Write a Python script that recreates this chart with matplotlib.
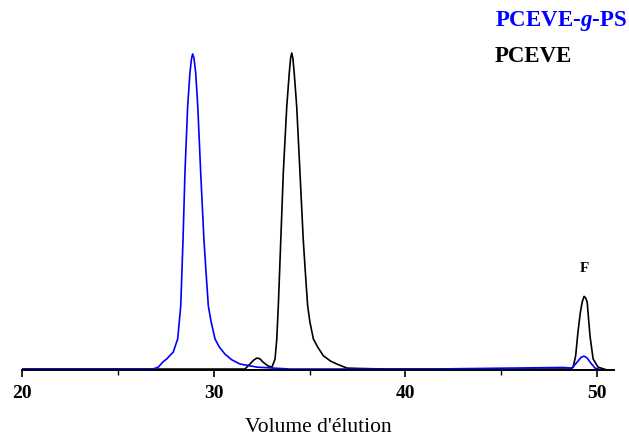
import matplotlib.pyplot as plt
from matplotlib.ticker import MultipleLocator

# SEC traces (elution volume, relative intensity)
graft_vol = [20.0, 26.83, 27.11, 27.34, 27.55, 27.89, 28.12, 28.28, 28.40, 28.50,
             28.64, 28.76, 28.84, 28.90, 28.97, 29.06, 29.17, 29.32, 29.49, 29.60,
             29.72, 29.87, 30.07, 30.29, 30.59, 30.95, 31.37, 32.26, 33.98, 41.28,
             48.22, 48.69, 49.0, 49.16, 49.32, 49.48, 49.63, 49.89, 50.26, 50.88]
graft_int = [0.3, 0.3, 0.9, 2.5, 3.5, 5.7, 9.8, 20.2, 41.3, 62.5,
             83.3, 94.0, 98.4, 100.0, 98.7, 94.0, 83.3, 62.5, 41.3, 30.9,
             20.2, 15.1, 9.8, 7.3, 5.0, 3.2, 1.9, 0.9, 0.3, 0.3,
             0.8, 0.6, 2.8, 4.0, 4.4, 3.8, 2.5, 0.6, 0.0, 0.0]

pceve_vol = [20.0, 31.63, 31.89, 32.10, 32.26, 32.42, 32.57, 32.83, 33.04, 33.20,
             33.29, 33.37, 33.50, 33.63, 33.81, 33.94, 34.01, 34.07, 34.13, 34.20,
             34.33, 34.50, 34.67, 34.78, 34.90, 35.02, 35.20, 35.42, 35.72, 36.10,
             36.42, 36.95, 37.48, 39.04, 48.59, 48.75, 48.88, 49.0, 49.12, 49.22,
             49.32, 49.40, 49.48, 49.63, 49.79, 50.05, 50.52, 50.88]
pceve_int = [0.3, 0.3, 1.9, 3.2, 3.8, 3.5, 2.5, 1.3, 0.9, 3.5,
             9.8, 20.3, 41.3, 62.4, 83.3, 93.9, 98.6, 100.3, 98.6, 93.9,
             83.3, 62.4, 41.3, 30.9, 20.3, 15.1, 9.8, 7.3, 4.5, 2.8,
             1.9, 0.6, 0.5, 0.3, 0.3, 0.9, 4.5, 12.0, 18.0, 21.5,
             23.3, 22.8, 21.5, 10.7, 3.5, 0.9, 0.0, 0.0]

xticks = [20, 30, 40, 50]

plt.rcParams['font.family'] = ['Liberation Serif', 'DejaVu Serif']
plt.rcParams['mathtext.fontset'] = 'custom'
plt.rcParams['mathtext.bfit'] = 'Liberation Serif:italic:bold'

fig = plt.figure(figsize=(6.29, 4.38), dpi=100)
ax = fig.add_axes([22 / 629, 1 - 370 / 438, 592 / 629, 330 / 438])

ax.plot(pceve_vol, pceve_int, color='black', lw=1.2)
ax.plot(graft_vol, graft_int, color='#0000ff', lw=1.2)

ax.set_xlim(20, 50.88)
ax.set_ylim(0, 104.4)

for s in ['left', 'right', 'top']:
    ax.spines[s].set_visible(False)
ax.spines['bottom'].set_linewidth(1.4)
ax.set_yticks([])
ax.set_xticks(xticks)
ax.xaxis.set_minor_locator(MultipleLocator(5))
ax.tick_params(axis='x', which='major', length=5, width=1.2, direction='out', pad=6)
ax.tick_params(axis='x', which='minor', length=3.5, width=1.0, direction='out')
for lab in ax.get_xticklabels():
    lab.set_fontweight('bold')
    lab.set_fontsize(14)

ax.set_xlabel("Volume d'élution", fontsize=15.5, labelpad=11.5)

fig.text(495 / 629, 1 - 21 / 438, r'PCEVE-$\mathbfit{g}$-PS', color='#0000ff',
         fontsize=16.5, fontweight='bold', va='center', ha='left')
fig.text(495 / 629, 1 - 56 / 438, 'PCEVE', color='black',
         fontsize=16.5, fontweight='bold', va='center', ha='left')
ax.text(49.33, 32.2, 'F', fontsize=11, fontweight='bold', ha='center', va='center')

fig.savefig('out.png', dpi=100)
